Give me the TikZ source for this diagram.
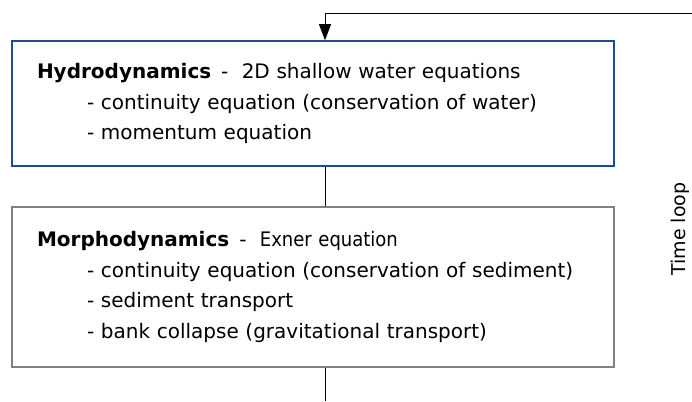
\documentclass[tikz,border=0pt]{standalone}
\usepackage{fontspec}
\setmainfont{DejaVu Sans}
\newfontfamily\condfont{DejaVu Sans Condensed}
\usetikzlibrary{arrows.meta}
\usetikzlibrary{calc}

\definecolor{hydroblue}{RGB}{30,75,150}
\definecolor{morphgray}{RGB}{128,128,128}

\tikzset{
	stepbox/.style={rectangle, line width=1.6pt, fill=white,
		text width=552pt, inner xsep=25pt, inner ysep=0pt,
		align=left, font=\fontsize{20}{30.5}\selectfont},
	link/.style={draw=black, line width=0.9pt}
}

\begin{document}
\begin{tikzpicture}[x=1pt,y=-1pt]
		\useasboundingbox (0,0) rectangle (692,401);
		%% Invisibly defining the points of the loop
		\path
			(325,13)  coordinate (corner)
			(692,13)  coordinate (loop_in)
			(325,401) coordinate (loop_out);
		%% The two model parts
		\node[stepbox, draw=hydroblue, minimum height=125pt] (hydro) at (313,103.5)
			{\textbf{Hydrodynamics}\ \,-\ \ 2D shallow water equations\\
			 \hspace*{50pt}- continuity equation (conservation of water)\\
			 \hspace*{50pt}- momentum equation};
		\node[stepbox, draw=morphgray, minimum height=160pt] (morph) at (313,287)
			{\textbf{Morphodynamics}\ \,-\ \ {\condfont Exner equation}\\
			 \hspace*{50pt}- continuity equation (conservation of sediment)\\
			 \hspace*{50pt}- sediment transport\\
			 \hspace*{50pt}- bank collapse (gravitational transport)};
		%% Label of the loop
		\node[rotate=90, font=\fontsize{19}{20}\selectfont] (timeloop) at (680,229) {Time loop};
		% Connecting the parts
		\draw[link, -{Triangle[length=16pt,width=12pt]}] (loop_in) -- (corner) -- (hydro.north -| corner);
		\draw[link] (hydro.south -| corner) -- (morph.north -| corner);
		\draw[link] (morph.south -| corner) -- (loop_out);
\end{tikzpicture}
\end{document}
